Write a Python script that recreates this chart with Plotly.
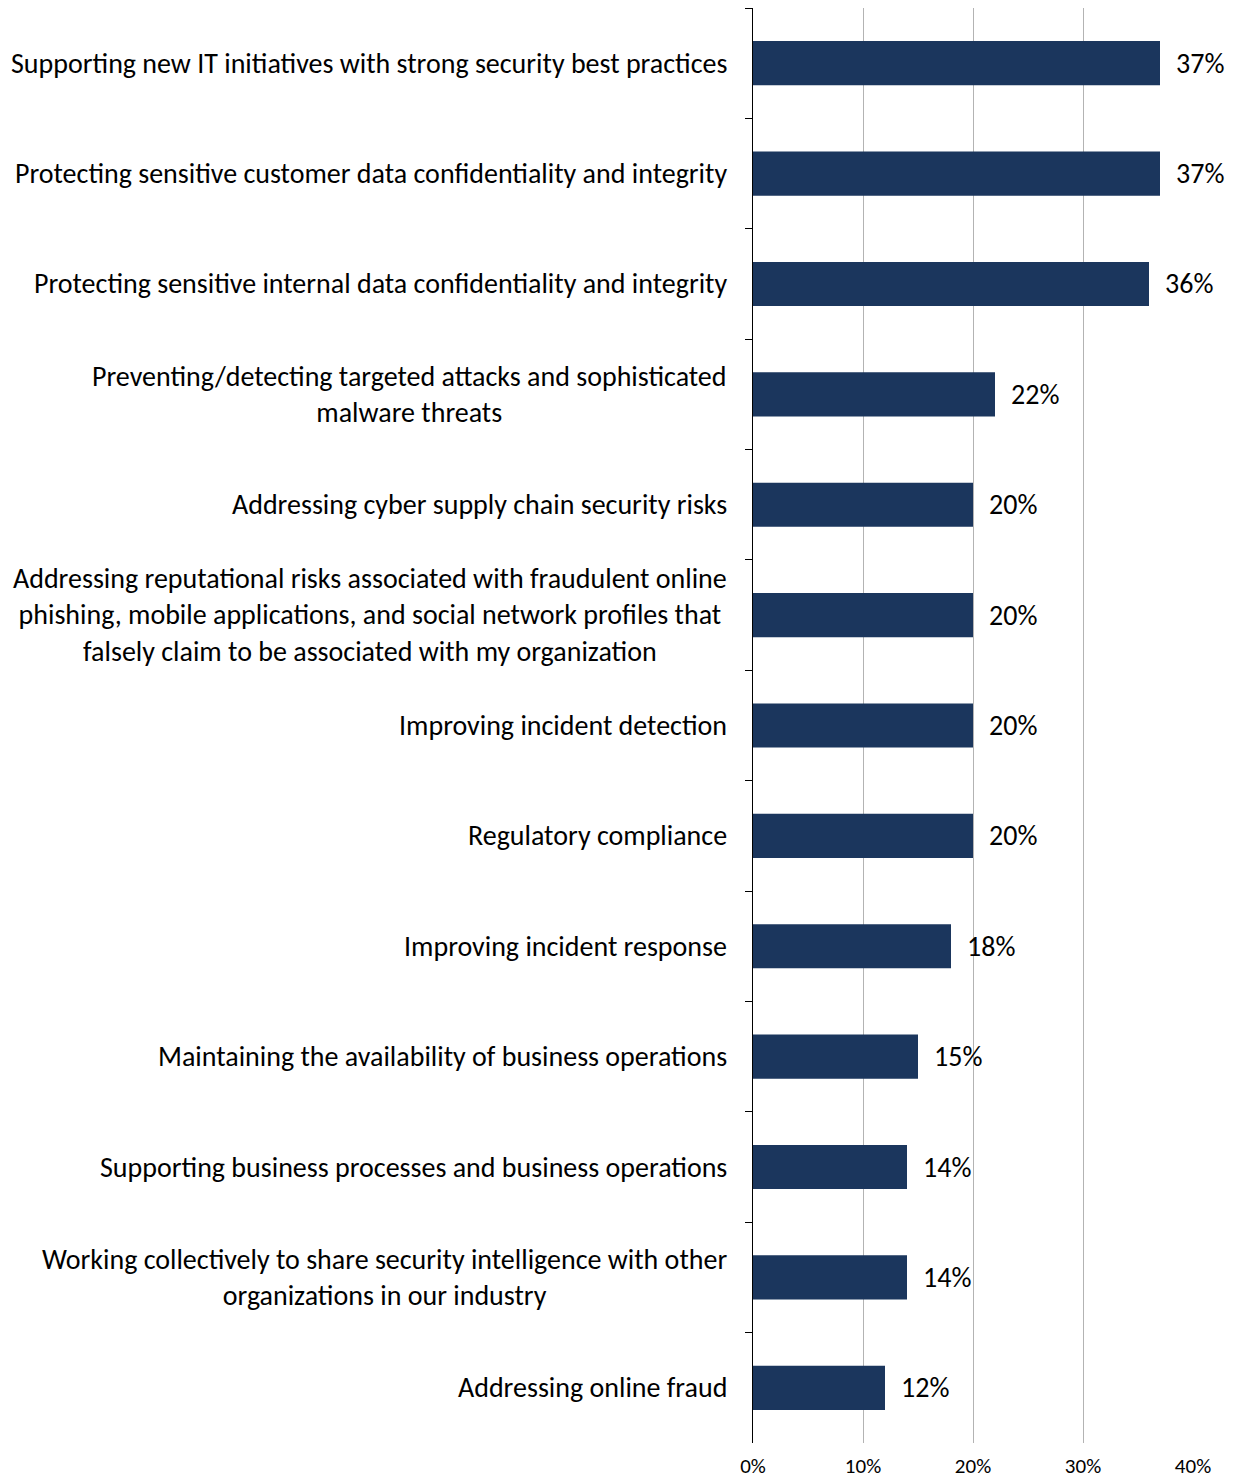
import plotly.graph_objects as go

# Priorities, listed top to bottom
categories = [
    "Supporting new IT initiatives with strong security best practices",
    "Protecting sensitive customer data confidentiality and integrity",
    "Protecting sensitive internal data confidentiality and integrity",
    "Preventing/detecting targeted attacks and sophisticated<br>malware threats",
    "Addressing cyber supply chain security risks",
    "Addressing reputational risks associated with fraudulent online<br>phishing, mobile applications, and social network profiles that<br>falsely claim to be associated with my organization",
    "Improving incident detection",
    "Regulatory compliance",
    "Improving incident response",
    "Maintaining the availability of business operations",
    "Supporting business processes and business operations",
    "Working collectively to share security intelligence with other<br>organizations in our industry",
    "Addressing online fraud",
]
shares = [0.37, 0.37, 0.36, 0.22, 0.20, 0.20, 0.20, 0.20, 0.18, 0.15, 0.14, 0.14, 0.12]
tick_values = [0, 0.1, 0.2, 0.3, 0.4]
tick_labels = ["0%", "10%", "20%", "30%", "40%"]

FONT = "Carlito, Lato, sans-serif"
BAR_COLOR = "#1B365D"

fig = go.Figure()
fig.add_trace(go.Bar(
    x=shares,
    y=categories,
    orientation="h",
    marker=dict(color=BAR_COLOR, line=dict(width=0)),
    hoverinfo="skip",
))

annotations = []
# Category labels, centred text blocks to the left of the axis
for cat in categories:
    annotations.append(dict(
        x=0, xref="paper", y=cat, yref="y",
        text=cat, showarrow=False,
        xanchor="right", yanchor="middle", align="center",
        xshift=-24,
        font=dict(family=FONT, size=28, color="#000000"),
    ))
# Value labels just past the end of each bar
for cat, v in zip(categories, shares):
    annotations.append(dict(
        x=v, xref="x", y=cat, yref="y",
        text=f"{round(v * 100)}%", showarrow=False,
        xanchor="left", yanchor="middle",
        xshift=14,
        font=dict(family=FONT, size=28, color="#000000"),
    ))

fig.update_layout(
    width=1242, height=1482,
    margin=dict(l=753, r=49, t=8, b=39),
    paper_bgcolor="white", plot_bgcolor="white",
    bargap=0.6,
    showlegend=False,
    annotations=annotations,
    xaxis=dict(
        range=[0, 0.4],
        tickvals=tick_values, ticktext=tick_labels,
        showgrid=True, gridcolor="#B3B3B3", gridwidth=1,
        zeroline=False, showline=False, ticks="",
        ticklabelstandoff=8,
        tickfont=dict(family=FONT, size=21, color="#000000"),
        automargin=False,
        fixedrange=True,
    ),
    yaxis=dict(
        type="category",
        autorange="reversed",
        showticklabels=False,
        showgrid=False, zeroline=False,
        showline=True, linecolor="#000000", linewidth=1,
        ticks="outside", tickson="boundaries", ticklen=7,
        tickcolor="#000000", tickwidth=1,
        automargin=False,
        fixedrange=True,
    ),
)

fig.write_html("out.html")
